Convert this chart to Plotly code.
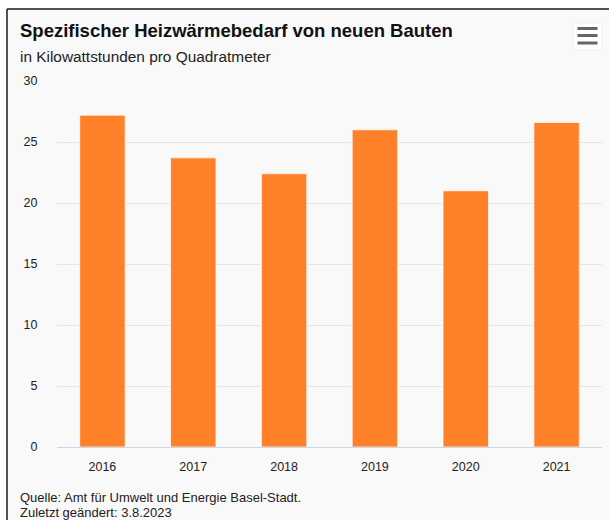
import plotly.graph_objects as go

# Heating demand of new buildings per year (kWh per square metre)
years = ["2016", "2017", "2018", "2019", "2020", "2021"]
demand = [27.2, 23.7, 22.4, 26.0, 21.0, 26.6]
y_ticks = [0, 5, 10, 15, 20, 25, 30]

title_text = "Spezifischer Heizwärmebedarf von neuen Bauten"
subtitle_text = "in Kilowattstunden pro Quadratmeter"
source_lines = ["Quelle: Amt für Umwelt und Energie Basel-Stadt.",
                "Zuletzt geändert: 3.8.2023"]

W, H = 609, 520
L, R, T, B = 57, 7, 81, 73
PW, PH = W - L - R, H - T - B

def px(x):
    return (x - L) / PW

def py(y):
    return 1 - (y - T) / PH

FONT = "Liberation Sans, Arial, sans-serif"

fig = go.Figure(go.Bar(
    x=years, y=demand,
    marker=dict(color="#fe8029", line=dict(color="rgba(255,255,255,0.7)", width=1)),
    hoverinfo="x+y",
))

shapes = [
    # card background with dark frame on left and top
    dict(type="rect", xref="paper", yref="paper", x0=px(7), x1=px(W + 5),
         y0=py(H + 5), y1=py(9), fillcolor="#f9f9f9", line=dict(width=0), layer="below"),
    dict(type="line", xref="paper", yref="paper", x0=px(7), x1=px(W + 5),
         y0=py(9), y1=py(9), line=dict(color="#1a1a1a", width=1.5)),
    dict(type="line", xref="paper", yref="paper", x0=px(7), x1=px(7),
         y0=py(9), y1=py(H + 5), line=dict(color="#1a1a1a", width=1.5)),
    # menu button
    dict(type="rect", xref="paper", yref="paper", x0=px(573), x1=px(602),
         y0=py(50), y1=py(23), fillcolor="#ffffff", line=dict(color="#f0f0f0", width=1)),
]
for yy in (28.5, 35.5, 43):
    shapes.append(dict(type="line", xref="paper", yref="paper", x0=px(577.5), x1=px(597.5),
                       y0=py(yy), y1=py(yy), line=dict(color="#666666", width=3)))

annotations = [
    dict(text=f"<b>{title_text}</b>", x=px(18), y=py(30.5), xref="paper", yref="paper",
         xanchor="left", yanchor="middle", showarrow=False,
         font=dict(family=FONT, size=18.5, color="#111111")),
    dict(text=subtitle_text, x=px(18), y=py(56), xref="paper", yref="paper",
         xanchor="left", yanchor="middle", showarrow=False,
         font=dict(family=FONT, size=15.4, color="#222222")),
]
for i, line in enumerate(source_lines):
    annotations.append(dict(text=line, x=px(18), y=py(497.5 + i * 14.5), xref="paper", yref="paper",
                            xanchor="left", yanchor="middle", showarrow=False,
                            font=dict(family=FONT, size=13, color="#222222")))

fig.update_layout(
    width=W, height=H,
    margin=dict(l=L, r=R, t=T, b=B, pad=0),
    paper_bgcolor="#ffffff",
    plot_bgcolor="rgba(0,0,0,0)",
    bargap=0.5,
    showlegend=False,
    font=dict(family=FONT, size=12, color="#333333"),
    xaxis=dict(showgrid=False, showline=True, linecolor="#ccd6eb", linewidth=1,
               ticks="outside", ticklen=8, tickcolor="rgba(0,0,0,0)",
               tickfont=dict(family=FONT, size=12.5, color="#222222"), fixedrange=True),
    yaxis=dict(range=[0, 30], tickvals=y_ticks, showgrid=True, gridcolor="#e6e6e6",
               gridwidth=1, zeroline=False, showline=False,
               ticks="outside", ticklen=16, tickcolor="rgba(0,0,0,0)",
               tickfont=dict(family=FONT, size=12.5, color="#222222"), fixedrange=True),
    shapes=shapes,
    annotations=annotations,
)

fig.write_html("out.html", config={"displayModeBar": False})
